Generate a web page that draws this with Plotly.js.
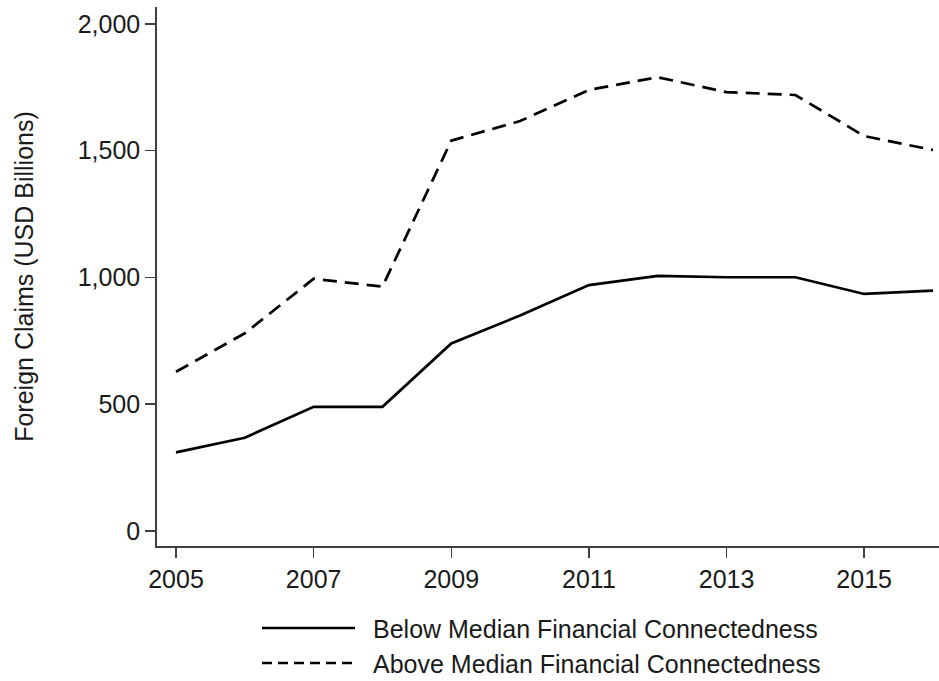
<!DOCTYPE html>
<html>
<head>
<meta charset="utf-8">
<script src="https://cdn.plot.ly/plotly-3.0.1.min.js"></script>
<style>html,body{margin:0;padding:0;background:#fff;}#chart{width:939px;height:681px;}</style>
</head>
<body>
<div id="chart"></div>
<script>
const years = [2005, 2006, 2007, 2008, 2009, 2010, 2011, 2012, 2013, 2014, 2015, 2016];
const belowMedian = [310, 368, 490, 490, 740, 850, 970, 1006, 1001, 1001, 935, 948];
const aboveMedian = [628, 780, 995, 964, 1540, 1617, 1740, 1790, 1731, 1720, 1558, 1503];
const seriesNames = ["Below Median Financial Connectedness", "Above Median Financial Connectedness"];
const xTickVals = [2005, 2007, 2009, 2011, 2013, 2015];
const yTickVals = [0, 500, 1000, 1500, 2000];
const yTitle = "Foreign Claims (USD Billions)";

const W = 939, H = 681;
const M = {l: 157, r: 0, t: 7, b: 135};
const pw = W - M.l - M.r, ph = H - M.t - M.b;
const px2x = p => (p - M.l) / pw;
const py2y = p => (H - M.b - p) / ph;

const FONT = "Arial, 'Liberation Sans', sans-serif";
const AX = "#404040";

const traces = [
  {x: years, y: belowMedian, name: seriesNames[0], type: "scatter", mode: "lines",
   line: {color: "#000", width: 2.7, dash: "solid"}, showlegend: false},
  {x: years, y: aboveMedian, name: seriesNames[1], type: "scatter", mode: "lines",
   line: {color: "#000", width: 2.7, dash: "14px,8px"}, showlegend: false}
];

const legendRows = [
  {y: 628, dash: "solid"},
  {y: 663, dash: "10px,6px"}
];
const shapes = legendRows.map(r => ({
  type: "line", xref: "paper", yref: "paper",
  x0: px2x(262), x1: px2x(355), y0: py2y(r.y), y1: py2y(r.y),
  line: {color: "#000", width: 2.7, dash: r.dash}
}));
const annotations = legendRows.map((r, i) => ({
  xref: "paper", yref: "paper", x: px2x(371), y: py2y(r.y + 1),
  xanchor: "left", yanchor: "middle", showarrow: false,
  text: seriesNames[i], font: {family: FONT, size: 25, color: "#1a1a1a"}
}));

const layout = {
  width: W, height: H,
  margin: M,
  paper_bgcolor: "#fff", plot_bgcolor: "#fff",
  font: {family: FONT, size: 25, color: "#1a1a1a"},
  showlegend: false,
  xaxis: {
    range: [2005 - 19/68.8, 2016 + 6/68.8],
    tickvals: xTickVals, ticktext: xTickVals.map(String),
    ticks: "outside", ticklen: 10, tickwidth: 1.5, tickcolor: AX,
    showline: true, linecolor: AX, linewidth: 1.8,
    showgrid: false, zeroline: false,
    tickfont: {family: FONT, size: 25, color: "#1a1a1a"}
  },
  yaxis: {
    range: [-59.2, 2067],
    tickvals: yTickVals, tickformat: ",d",
    ticks: "outside", ticklen: 10, tickwidth: 1.5, tickcolor: AX,
    showline: true, linecolor: AX, linewidth: 1.8,
    showgrid: false, zeroline: false,
    tickfont: {family: FONT, size: 25, color: "#1a1a1a"},
    title: {text: yTitle, standoff: 37, font: {family: FONT, size: 25, color: "#1a1a1a"}}
  },
  shapes: shapes,
  annotations: annotations
};

Plotly.newPlot("chart", traces, layout, {displayModeBar: false, staticPlot: true});
</script>
</body>
</html>
